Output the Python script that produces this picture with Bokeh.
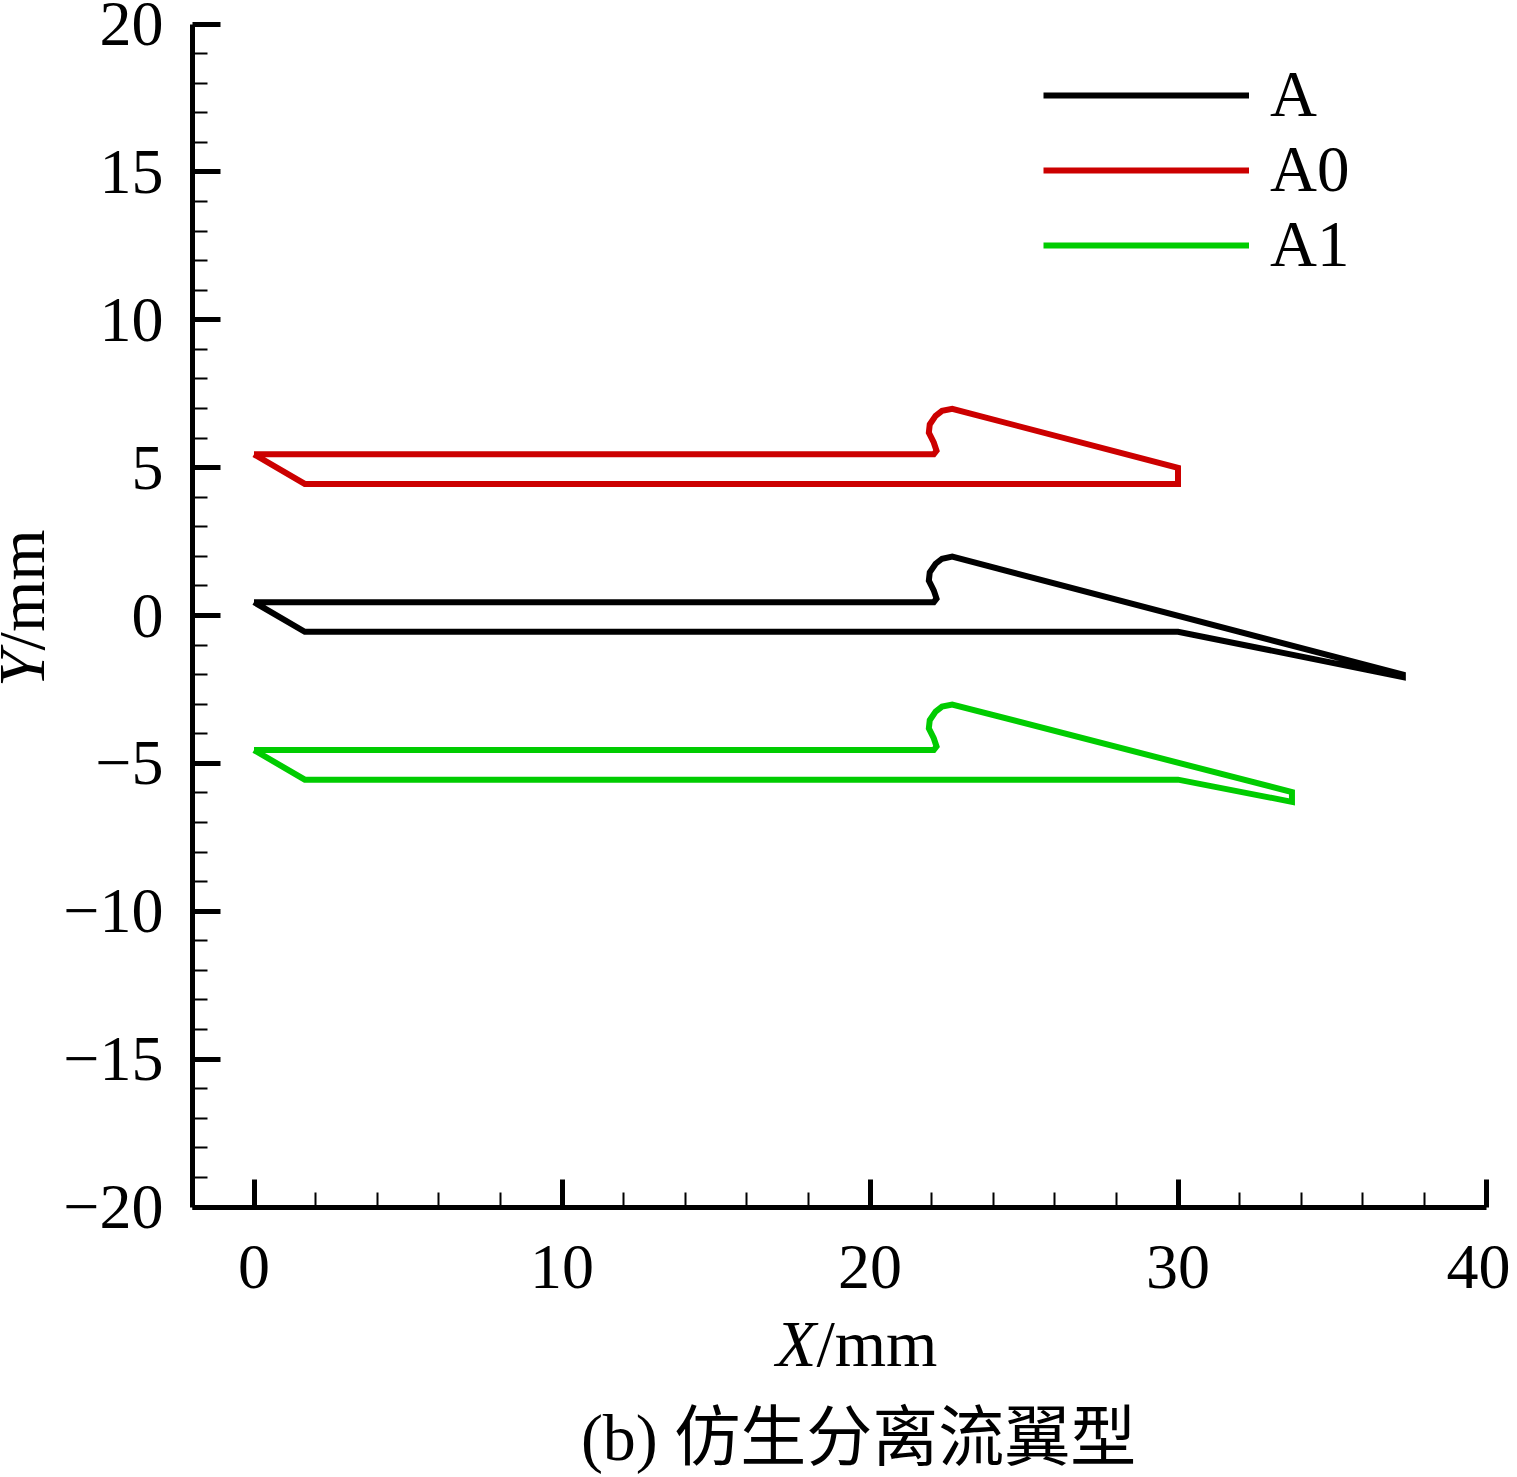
from bokeh.plotting import figure
from bokeh.models import FixedTicker, Label, Legend, LegendItem, Range1d
from bokeh.core.properties import value
from bokeh.embed import file_html
from bokeh.resources import INLINE
import math

# ---- data ----
A_x = [0.0, 22.07, 22.16, 22.07, 21.91, 21.94, 22.13, 22.34, 22.67, 37.3, 37.3, 30.0, 1.65, 0.0]
A_y = [0.45, 0.45, 0.57, 0.85, 1.18, 1.46, 1.75, 1.92, 1.99, -2.0, -2.08, -0.55, -0.55, 0.45]

A0_x = [0.0, 22.07, 22.16, 22.07, 21.91, 21.94, 22.13, 22.34, 22.67, 30.0, 30.0, 1.65, 0.0]
A0_y = [5.45, 5.45, 5.57, 5.85, 6.18, 6.46, 6.75, 6.92, 6.99, 4.99, 4.45, 4.45, 5.45]

A1_x = [0.0, 22.07, 22.16, 22.07, 21.91, 21.94, 22.13, 22.34, 22.67, 33.7, 33.7, 30.0, 1.65, 0.0]
A1_y = [-4.55, -4.55, -4.43, -4.15, -3.82, -3.54, -3.25, -3.08, -3.01, -5.97, -6.30, -5.55, -5.55, -4.55]

series_names = ["A", "A0", "A1"]
series_colors = ["#000000", "#cc0000", "#00cc00"]

x_major = [0, 10, 20, 30, 40]
x_minor = [2, 4, 6, 8, 12, 14, 16, 18, 22, 24, 26, 28, 32, 34, 36, 38]
y_major = [-20, -15, -10, -5, 0, 5, 10, 15, 20]
y_minor = [v for v in range(-20, 21) if v % 5 != 0]
y_labels = {-20: "\u221220", -15: "\u221215", -10: "\u221210", -5: "\u22125",
            0: "0", 5: "5", 10: "10", 15: "15", 20: "20"}
x_labels = {0: "0", 10: "10", 20: "20", 30: "30", 40: "40"}
x_lim = (-2, 40)
y_lim = (-20, 20)

SERIF = "Liberation Serif"

# canvas geometry: the frame fills the whole canvas, the axes sit at fixed data locations
W, H = 1510, 1475
PX_X = 30.8      # pixels per x unit
PX_Y = 29.575    # pixels per y unit
X0_PX = 253.5    # canvas pixel of x = 0
Y0_PX = 615.0    # canvas pixel of y = 0

p = figure(width=W, height=H, output_backend="svg", toolbar_location=None,
           x_range=Range1d(-X0_PX / PX_X, (W - X0_PX) / PX_X),
           y_range=Range1d((Y0_PX - H) / PX_Y, Y0_PX / PX_Y),
           min_border=0)
p.outline_line_color = None
p.grid.visible = False
p.background_fill_color = "white"
p.border_fill_color = "white"

renderers = []
for xs, ys, c in zip([A_x, A0_x, A1_x], [A_y, A0_y, A1_y], series_colors):
    r = p.line(xs, ys, line_color=c, line_width=6, line_join="miter")
    renderers.append(r)

for ax, major, minor, labels in [(p.xaxis[0], x_major, x_minor, x_labels),
                                 (p.yaxis[0], y_major, y_minor, y_labels)]:
    ax.ticker = FixedTicker(ticks=major, minor_ticks=minor)
    ax.major_label_overrides = labels
    ax.axis_line_width = 5
    ax.major_tick_in = 28
    ax.major_tick_out = 0
    ax.minor_tick_in = 15
    ax.minor_tick_out = 0
    ax.major_tick_line_width = 5
    ax.minor_tick_line_width = 2
    ax.major_label_text_font = SERIF
    ax.major_label_text_font_size = "64px"
    ax.major_label_text_color = "black"
    ax.axis_line_color = "black"
    ax.major_tick_line_color = "black"
    ax.minor_tick_line_color = "black"
p.xaxis[0].fixed_location = y_lim[0]
p.xaxis[0].bounds = x_lim
p.yaxis[0].fixed_location = x_lim[0]
p.yaxis[0].bounds = y_lim
p.xaxis.major_label_standoff = 39
p.yaxis.major_label_standoff = 29

# axis titles (italic variable + unit)
p.add_layout(Label(x=18.26, y=-24.62, text="X", text_align="right", text_baseline="alphabetic",
                   text_font=SERIF, text_font_style="italic", text_font_size="66px", text_color="black"))
p.add_layout(Label(x=18.26, y=-24.62, text="/mm", text_align="left", text_baseline="alphabetic",
                   text_font=SERIF, text_font_size="66px", text_color="black"))
p.add_layout(Label(x=-7.55, y=-1.18, text="Y", angle=math.pi / 2, text_align="right",
                   text_baseline="alphabetic", text_font=SERIF, text_font_style="italic",
                   text_font_size="66px", text_color="black"))
p.add_layout(Label(x=-7.55, y=-1.18, text="/mm", angle=math.pi / 2, text_align="left",
                   text_baseline="alphabetic", text_font=SERIF,
                   text_font_size="66px", text_color="black"))
# caption
p.add_layout(Label(x=19.63, y=-27.8, text="(b) 仿生分离流翼型", text_align="center",
                   text_baseline="middle", text_font="Liberation Serif, Noto Sans CJK SC",
                   text_font_size="66px", text_color="black"))

legend = Legend(items=[LegendItem(label=n, renderers=[r]) for n, r in zip(series_names, renderers)],
                location=(1043, H - 57 - 225), orientation="vertical",
                glyph_width=206, glyph_height=72, label_height=72, spacing=0,
                label_standoff=21, padding=0, margin=0,
                border_line_color=None, background_fill_alpha=0,
                label_text_font=SERIF, label_text_font_size="65px",
                label_text_color="black")
legend.label_text_baseline = "middle"
p.add_layout(legend)

open("out.html", "w").write(file_html(p, INLINE))
